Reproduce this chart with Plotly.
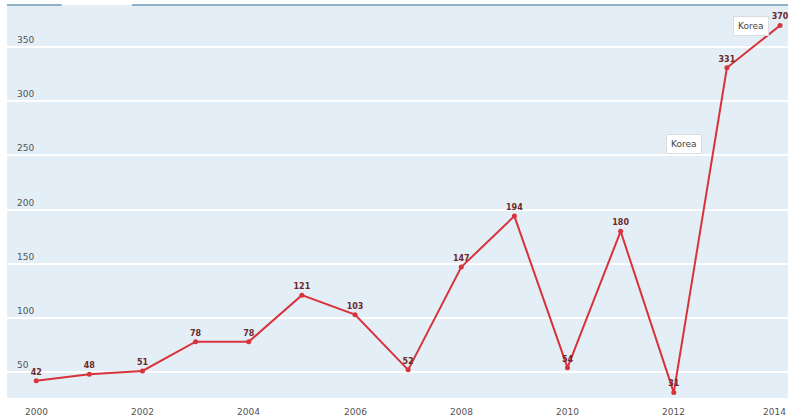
import plotly.graph_objects as go

years = list(range(2000, 2015))
values = [42, 48, 51, 78, 78, 121, 103, 52, 147, 194, 54, 180, 31, 331, 370]
y_ticks = [50, 100, 150, 200, 250, 300, 350]
x_ticks = [2000, 2002, 2004, 2006, 2008, 2010, 2012, 2014]

fig = go.Figure()
fig.add_trace(go.Scatter(
    x=years, y=values, mode="lines+markers+text",
    line=dict(color="#d8333b", width=2),
    marker=dict(color="#d8333b", size=5),
    text=[f"<b>{v}</b>" for v in values],
    textposition="top center",
    textfont=dict(family="DejaVu Sans", size=8, color="#6b2a2a"),
    cliponaxis=False, hoverinfo="skip", showlegend=False,
))

fig.add_annotation(x=2013.45, y=370, xref="x", yref="y", text="Korea",
                   showarrow=False, bgcolor="white", bordercolor="#d8dde2",
                   borderwidth=1, borderpad=4,
                   font=dict(family="DejaVu Sans", size=9, color="#444"))
fig.add_annotation(x=2012.2, y=261, xref="x", yref="y", text="Korea",
                   showarrow=False, bgcolor="white", bordercolor="#d8dde2",
                   borderwidth=1, borderpad=4,
                   font=dict(family="DejaVu Sans", size=9, color="#444"))

# x tick labels placed on the x scale
for i, t in enumerate(x_ticks):
    last = i == len(x_ticks) - 1
    fig.add_annotation(x=t, y=0, xref="x", yref="paper", text=str(t),
                       showarrow=False, yanchor="top", yshift=-7,
                       xanchor="right" if last else "center",
                       xshift=8 if last else 0,
                       font=dict(family="DejaVu Sans", size=9, color="#555"))

# y tick labels placed on the y scale, inside the plot
for t in y_ticks:
    fig.add_annotation(x=0, y=t, xref="paper", yref="y", text=str(t),
                       showarrow=False, xanchor="left", yanchor="bottom",
                       xshift=8, yshift=0,
                       font=dict(family="DejaVu Sans", size=9, color="#555"))

for x0, x1 in [(0.0, 0.07), (0.16, 1.0)]:
    fig.add_shape(type="line", xref="paper", yref="paper", x0=x0, x1=x1,
                  y0=1, y1=1, line=dict(color="#8fb1c4", width=2))

fig.update_layout(
    width=788, height=418,
    margin=dict(l=7, r=0, t=5, b=20),
    paper_bgcolor="white", plot_bgcolor="#e3eef6",
    font=dict(family="DejaVu Sans", size=9, color="#555"),
    xaxis=dict(range=[1999.45, 2014.15], tickvals=x_ticks, showgrid=False,
               zeroline=False, showline=False, ticks="", showticklabels=False),
    yaxis=dict(range=[26, 389], tickvals=y_ticks, showgrid=True,
               gridcolor="white", gridwidth=1.5, zeroline=False,
               ticks="", showticklabels=False),
)

fig.write_html("out.html")
